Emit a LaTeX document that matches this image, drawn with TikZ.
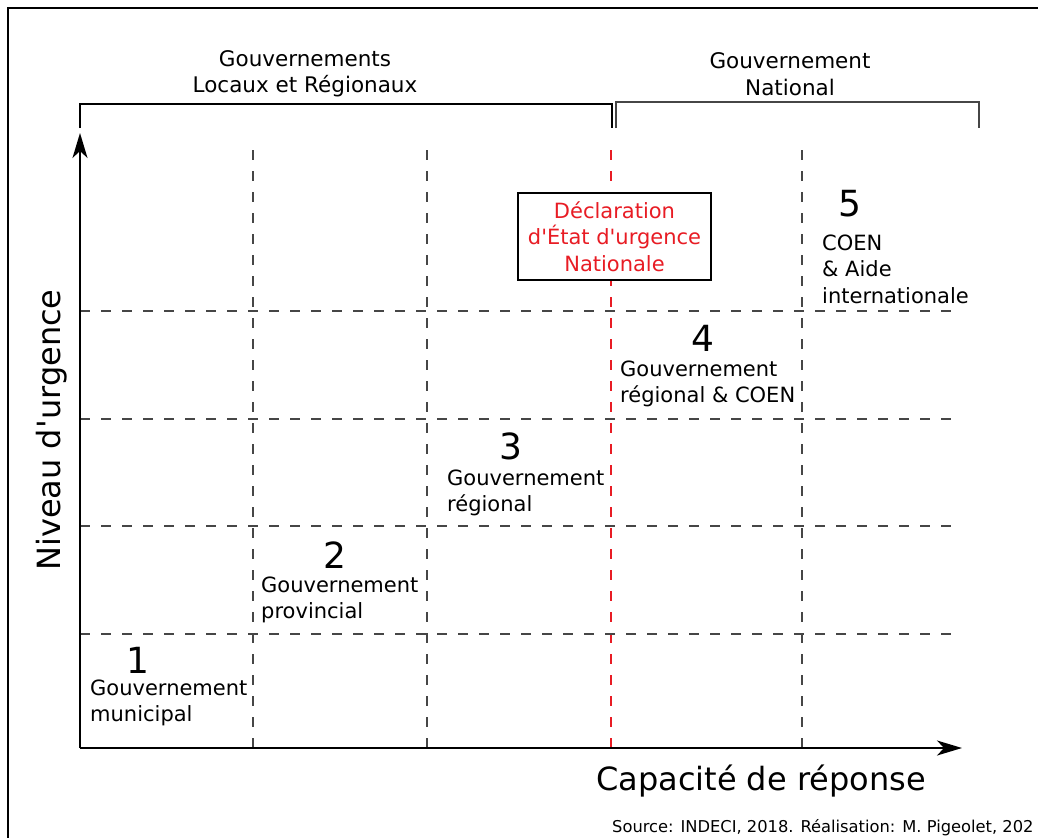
\documentclass[tikz,border=0pt]{standalone}
\usepackage{fontspec}
\setmainfont{DejaVu Sans}[Ligatures=TeXOff]
\usetikzlibrary{positioning,arrows.meta}
\definecolor{grille}{RGB}{70,70,70}
\definecolor{rougedecl}{RGB}{232,28,36}

\begin{document}
\begin{tikzpicture}[x=1pt,y=-1pt, every node/.style={font=\fontsize{21}{26.5}\selectfont, inner sep=0pt},
    dashgrid/.style={grille, line width=1.2pt, dash pattern=on 10pt off 11pt},
    niveau/.style={anchor=west, align=left},
    numero/.style={font=\fontsize{36}{36}\selectfont},
    axe/.style={line width=1.8pt, -{Stealth[length=25pt,width=15pt,inset=7pt]}}]
      \useasboundingbox (0,0) rectangle (1038,838);
      \fill[white] (0,0) rectangle (1038,838);
      \draw[line width=1.5pt] (1038,8) -- (8,8) -- (8,838);
      % axes
      \coordinate (O) at (80,748);
      \coordinate (ytop) at (80,133);
      \coordinate (xend) at (962,748);
      % grille
      \foreach \x in {253,427,802} \draw[dashgrid] (\x,150) -- (\x,748);
      \draw[dashgrid, draw=rougedecl] (611,150) -- (611,748);
      \foreach \y in {311,419,526,634} \draw[dashgrid] (80,\y) -- (955,\y);
      \draw[axe] (O) -- (ytop);
      \draw[axe] (O) -- (xend);
      % accolades
      \coordinate (gl1) at (80,128);
      \coordinate (gl2) at (612,128);
      \coordinate (gn1) at (616,128);
      \coordinate (gn2) at (979,128);
      \draw[line width=1.2pt] (gl1) |- (346,104) -| (gl2);
      \draw[line width=1.2pt, grille] (gn1) |- (797,102) -| (gn2);
      \node[align=center, font=\fontsize{21.5}{26.5}\selectfont] (loc) at (305,74) {Gouvernements\\Locaux et Régionaux};
      \node[align=center, font=\fontsize{21.5}{26.5}\selectfont] (nat) at (790,74) {Gouvernement\\National};
      % paliers
      \node[numero] (n1) at (138,660) {1};
      \node[niveau] (p1) at (90,703) {Gouvernement\\municipal};
      \node[numero] (n2) at (335,555) {2};
      \node[niveau] (p2) at (261,600) {Gouvernement\\provincial};
      \node[numero] (n3) at (511,446) {3};
      \node[niveau] (p3) at (447,493) {Gouvernement\\régional};
      \node[numero] (n4) at (703,338) {4};
      \node[niveau] (p4) at (620,384) {Gouvernement\\régional \& COEN};
      \node[numero] (n5) at (850,204) {5};
      \node[niveau] (p5) at (822,269) {COEN\\\& Aide\\internationale};
      \node[draw, line width=1.2pt, fill=white, text=rougedecl, align=center, minimum width=193pt, minimum height=87pt] (decl) at (614.5,236.5) {Déclaration\\d'État d'urgence\\Nationale};
      % titres
      \node[font=\fontsize{32}{32}\selectfont, rotate=90] (ylab) at (52,430) {Niveau d'urgence};
      \node[font=\fontsize{32}{32}\selectfont] (xlab) at (761,781) {Capacité de réponse};
      \node[font=\fontsize{16.3}{18}\selectfont, anchor=west] (src) at (612,828) {Source: INDECI, 2018. Réalisation: M. Pigeolet, 202};
    \end{tikzpicture}
\end{document}
